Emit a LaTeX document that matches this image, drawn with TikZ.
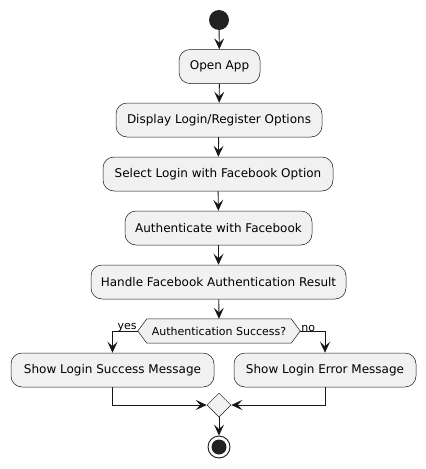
\documentclass[tikz,border=0pt]{standalone}
\usepackage{fontspec}
\setmainfont{DejaVu Sans}
\usetikzlibrary{arrows.meta,shapes.geometric}
\definecolor{boxfill}{HTML}{F1F1F1}
\definecolor{linec}{HTML}{181818}
\definecolor{dotc}{HTML}{222222}
\tikzset{
  act/.style={draw=linec, fill=boxfill, rounded corners=11pt, line width=0.5pt,
    minimum height=34pt, inner sep=0pt, font=\fontsize{12}{14}\selectfont},
  flow/.style={draw=linec, line width=0.9pt, -{Stealth[length=11pt,width=10pt,inset=4.5pt]}},
  lbl/.style={font=\fontsize{11}{13}\selectfont, inner sep=0pt, text=black},
}
\begin{document}
\begin{tikzpicture}[x=1pt,y=-1pt]
\useasboundingbox (0,0) rectangle (426,469);
\node[circle, fill=dotc, minimum size=20pt, inner sep=0pt] (start) at (219,20) {};
\node[act, minimum width=81pt] (open) at (219.5,66.5) {Open App};
\node[act, minimum width=206pt] (disp) at (219,120) {Display Login/Register Options};
\node[act, minimum width=230pt] (sel) at (218,174) {Select Login with Facebook Option};
\node[act, minimum width=187pt] (auth) at (218.5,228) {Authenticate with Facebook};
\node[act, minimum width=255pt] (hand) at (218.5,282) {Handle Facebook Authentication Result};
\node[minimum width=162pt, minimum height=24pt, inner sep=0pt] (dec) at (219,331) {};
\draw[draw=linec, fill=boxfill, line width=0.5pt] (dec.west) -- ([xshift=9pt]dec.north west) -- ([xshift=-9pt]dec.north east) -- (dec.east) -- ([xshift=-9pt]dec.south east) -- ([xshift=9pt]dec.south west) -- cycle;
\node[font=\fontsize{11}{13}\selectfont, inner sep=0pt] (dectext) at (dec) {Authentication Success?};
\node[act, minimum width=203pt] (succ) at (112.5,370) {Show Login Success Message};
\node[act, minimum width=182pt] (err) at (325,370) {Show Login Error Message};
\node[diamond, draw=linec, fill=boxfill, line width=0.5pt, minimum width=24pt, minimum height=24pt, inner sep=0pt] (merge) at (219,405) {};
\node[circle, draw=linec, line width=0.9pt, fill=white, minimum size=22pt, inner sep=0pt] (stop) at (219,447) {};
\node[circle, fill=dotc, minimum size=15pt, inner sep=0pt] (stopdot) at (219,447) {};
\draw[flow] (start) -- (open);
\draw[flow] (open) -- (disp);
\draw[flow] (disp) -- (sel);
\draw[flow] (sel) -- (auth);
\draw[flow] (auth) -- (hand);
\draw[flow] (hand) -- (dec.north);
\draw[flow] (dec.west) -| (succ.north);
\draw[flow] (dec.east) -| (err.north);
\node[lbl, anchor=south east] (yes) at ([xshift=-1pt,yshift=-1pt]dec.west) {yes};
\node[lbl, anchor=south west] (no) at ([xshift=1pt,yshift=-1pt]dec.east) {no};
\draw[flow] (succ.south) |- (merge.west);
\draw[flow] (err.south) |- (merge.east);
\draw[flow] (merge.south) -- (stop.north);
\end{tikzpicture}
\end{document}
